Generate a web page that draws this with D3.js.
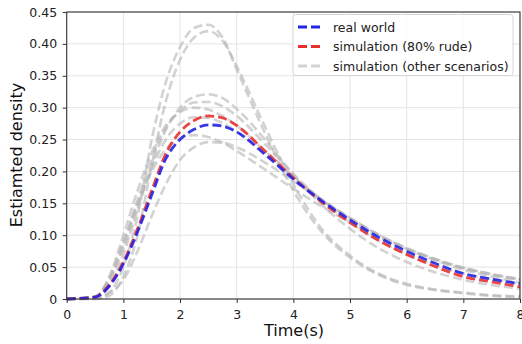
<!DOCTYPE html>
<html><head><meta charset="utf-8">
<script src="https://cdn.jsdelivr.net/npm/d3@7"></script>
<style>body{margin:0;background:#fff;}svg{display:block;font-family:"DejaVu Sans",sans-serif;}</style>
</head><body><svg id="c" width="522" height="344"></svg>
<script>
const times = [0,0.5,0.75,1,1.25,1.5,1.75,2,2.25,2.5,2.75,3,3.5,4,4.5,5,5.5,6,6.5,7,7.5,8];
const realWorld = [0,0.003,0.02,0.055,0.105,0.163,0.22,0.25,0.266,0.273,0.271,0.262,0.227,0.188,0.154,0.124,0.097,0.075,0.056,0.040,0.031,0.024];
const sim80 = [0,0.003,0.022,0.058,0.11,0.17,0.228,0.262,0.28,0.287,0.284,0.272,0.232,0.19,0.152,0.12,0.092,0.07,0.051,0.035,0.027,0.019];
const simOther = [
  [0,0,0.01,0.05,0.13,0.25,0.34,0.395,0.425,0.43,0.41,0.36,0.26,0.17,0.105,0.065,0.038,0.022,0.014,0.009,0.005,0.003],
  [0,0,0.005,0.035,0.10,0.21,0.31,0.375,0.41,0.42,0.405,0.365,0.27,0.18,0.11,0.068,0.04,0.024,0.015,0.01,0.006,0.004],
  [0,0.002,0.02,0.07,0.14,0.21,0.265,0.30,0.317,0.321,0.315,0.298,0.25,0.195,0.148,0.11,0.08,0.058,0.042,0.03,0.022,0.016],
  [0,0.003,0.03,0.085,0.155,0.22,0.268,0.295,0.308,0.309,0.302,0.287,0.243,0.196,0.155,0.12,0.092,0.07,0.053,0.04,0.031,0.024],
  [0,0.004,0.035,0.10,0.17,0.23,0.272,0.293,0.30,0.297,0.287,0.272,0.232,0.192,0.156,0.126,0.1,0.079,0.062,0.048,0.038,0.03],
  [0,0.003,0.028,0.08,0.145,0.205,0.25,0.275,0.285,0.284,0.276,0.262,0.226,0.19,0.156,0.127,0.101,0.08,0.063,0.049,0.039,0.031],
  [0,0.004,0.032,0.09,0.15,0.2,0.235,0.252,0.257,0.254,0.245,0.232,0.203,0.173,0.145,0.12,0.097,0.078,0.062,0.049,0.039,0.031],
  [0,0.001,0.01,0.03,0.075,0.13,0.18,0.218,0.238,0.246,0.245,0.238,0.214,0.185,0.155,0.127,0.101,0.079,0.061,0.046,0.035,0.026]
];
const xTicks = [0,1,2,3,4,5,6,7,8];
const yTicks = [0,0.05,0.10,0.15,0.20,0.25,0.30,0.35,0.40,0.45];
const legendLabels = ["real world","simulation (80% rude)","simulation (other scenarios)"];

const svg = d3.select("#c");
const L=66.7, R=520, T=12, B=299;
const x = d3.scaleLinear().domain([0,8]).range([L,R]);
const y = d3.scaleLinear().domain([0,0.45]).range([B,T]);

// grid
const g = svg.append("g");
g.selectAll(".gx").data(xTicks).join("line").attr("x1",d=>x(d)).attr("x2",d=>x(d)).attr("y1",T).attr("y2",B).attr("stroke","#e4e4e4").attr("stroke-width",1);
g.selectAll(".gy").data(yTicks).join("line").attr("x1",L).attr("x2",R).attr("y1",d=>y(d)).attr("y2",d=>y(d)).attr("stroke","#e4e4e4").attr("stroke-width",1);

const line = d3.line().x((d,i)=>x(times[i])).y(d=>y(d)).curve(d3.curveMonotoneX);
const plot = svg.append("g");
simOther.forEach(s=>{
  plot.append("path").attr("d",line(s)).attr("fill","none").attr("stroke","#b4b4b4").attr("stroke-opacity",0.6)
    .attr("stroke-width",2.6).attr("stroke-dasharray","9,4");
});
plot.append("path").attr("d",line(sim80)).attr("fill","none").attr("stroke","#e8302f").attr("stroke-opacity",0.9).attr("stroke-width",2.8).attr("stroke-dasharray","9,4");
plot.append("path").attr("d",line(realWorld)).attr("fill","none").attr("stroke","#2424e6").attr("stroke-opacity",0.9).attr("stroke-width",2.8).attr("stroke-dasharray","9,4");

// axes
const xa = svg.append("g").attr("transform",`translate(0,${B})`).call(d3.axisBottom(x).tickValues(xTicks).tickFormat(d3.format("d")).tickSize(4).tickSizeOuter(0));
const ya = svg.append("g").attr("transform",`translate(${L},0)`).call(d3.axisLeft(y).tickValues(yTicks).tickFormat(d=>d===0?"0":d3.format(".2f")(d)).tickSize(4).tickSizeOuter(0));
[xa,ya].forEach(a=>{a.select(".domain").remove();a.selectAll("text").attr("font-size",12.5).attr("fill","#222").attr("font-family","DejaVu Sans");a.selectAll("line").attr("stroke","#333");});
xa.selectAll("text").attr("dy","1.0em");
ya.selectAll("text").attr("dx","-0.2em");
svg.append("rect").attr("x",L).attr("y",T).attr("width",R-L).attr("height",B-T).attr("fill","none").attr("stroke","#333").attr("stroke-width",1.1);

svg.append("text").attr("x",294).attr("y",336).attr("text-anchor","middle").attr("font-size",16).attr("fill","#111").text("Time(s)");
svg.append("text").attr("transform","translate(22,155) rotate(-90)").attr("text-anchor","middle").attr("font-size",16).attr("fill","#111").text("Estiamted density");

// legend
const lg = svg.append("g");
lg.append("rect").attr("x",293).attr("y",14.5).attr("width",220).attr("height",61).attr("rx",3).attr("fill","#fff").attr("fill-opacity",0.85).attr("stroke","#d6d6d6");
const lcol = ["#2424e6","#e8302f","#d4d4d4"];
legendLabels.forEach((t,i)=>{
  const yy = 27 + i*19.5;
  lg.append("line").attr("x1",298).attr("x2",322).attr("y1",yy).attr("y2",yy).attr("stroke",lcol[i]).attr("stroke-width",2.8).attr("stroke-dasharray","9,4");
  lg.append("text").attr("x",333).attr("y",yy+4.5).attr("font-size",12.5).attr("fill","#222").text(t);
});
</script></body></html>
